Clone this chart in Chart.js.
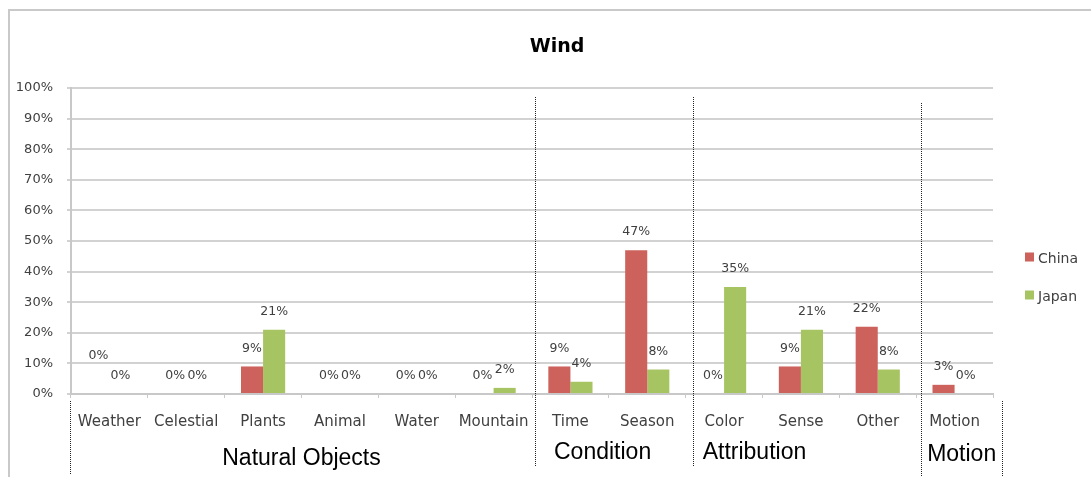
<!DOCTYPE html>
<html>
<head>
<meta charset="utf-8">
<title>Wind</title>
<script src="https://cdn.jsdelivr.net/npm/chart.js@4/dist/chart.umd.min.js"></script>
<style>
  html, body { margin: 0; padding: 0; background: #ffffff; }
  #chart { display: block; }
</style>
</head>
<body>
<canvas id="chart" width="1091" height="477"></canvas>
<script>
// Categories of wind imagery, grouped into four themes
const categories = ['Weather', 'Celestial', 'Plants', 'Animal', 'Water', 'Mountain',
                    'Time', 'Season', 'Color', 'Sense', 'Other', 'Motion'];
const chinaShare = [0, 0, 9, 0, 0, 0, 9, 47, 0, 9, 22, 3];
const japanShare = [0, 0, 21, 0, 0, 2, 4, 8, 35, 21, 8, 0];
const seriesNames = ['China', 'Japan'];
const yTickValues = [0, 10, 20, 30, 40, 50, 60, 70, 80, 90, 100];
const groupNames = ['Natural Objects', 'Condition', 'Attribution', 'Motion'];
const groupStarts = [0, 6, 8, 11];   // first category index of each group
const groupEnds = [5, 7, 10, 11];    // last category index of each group
const chartTitle = 'Wind';

const COLORS = { china: '#cc625b', japan: '#a6c562' };
const TEXT_GRAY = '#404040';

// Boundary pixel to the left of category index i on the x scale
function boundaryX(scale, i) {
  const step = (scale.right - scale.left) / categories.length;
  return scale.left + step * i;
}

const decorPlugin = {
  id: 'decor',
  beforeDraw(chart) {
    const ctx = chart.ctx;
    ctx.save();
    // light frame along the top and left edge
    ctx.strokeStyle = '#c9c9c9';
    ctx.lineWidth = 2;
    ctx.beginPath();
    ctx.moveTo(9, 477);
    ctx.lineTo(9, 10);
    ctx.lineTo(1091, 10);
    ctx.stroke();
    ctx.restore();
  },
  afterDatasetsDraw(chart, args, opts) {
    // value labels above every bar
    const ctx = chart.ctx;
    ctx.save();
    ctx.font = '12.5px "DejaVu Sans"';
    ctx.fillStyle = TEXT_GRAY;
    ctx.textAlign = 'center';
    ctx.textBaseline = 'middle';
    chart.data.datasets.forEach((ds, di) => {
      const meta = chart.getDatasetMeta(di);
      meta.data.forEach((bar, i) => {
        const extra = (opts.shift && opts.shift[di + '-' + i]) || 0;
        ctx.fillText(ds.data[i] + '%', bar.x, bar.y - 18 + extra);
      });
    });
    ctx.restore();
  },
  afterDraw(chart, args, opts) {
    const ctx = chart.ctx;
    const xs = chart.scales.x;
    const area = chart.chartArea;
    ctx.save();

    // title
    ctx.fillStyle = '#000000';
    ctx.font = 'bold 19px "DejaVu Sans"';
    ctx.textAlign = 'center';
    ctx.textBaseline = 'middle';
    ctx.fillText(chartTitle, opts.titleX, opts.titleY);

    // dotted separators between the groups
    ctx.strokeStyle = '#222222';
    ctx.lineWidth = 1;
    ctx.setLineDash([1, 1]);
    opts.separators.forEach(s => {
      const x = Math.round(boundaryX(xs, s.at) + s.dx) + 0.5;
      ctx.beginPath();
      ctx.moveTo(x, s.top);
      ctx.lineTo(x, s.bottom);
      ctx.stroke();
    });
    ctx.setLineDash([]);

    // group names under the category labels
    ctx.fillStyle = '#000000';
    ctx.font = '23px "Liberation Sans"';
    ctx.textBaseline = 'middle';
    groupNames.forEach((name, g) => {
      const p = opts.groupLabels[g];
      const left = boundaryX(xs, groupStarts[g]);
      const right = boundaryX(xs, groupEnds[g] + 1);
      if (p.align === 'center') {
        ctx.textAlign = 'center';
        ctx.fillText(name, (left + right) / 2, p.y);
      } else {
        ctx.textAlign = 'left';
        ctx.fillText(name, left + p.dx, p.y);
      }
    });

    // legend on the right
    ctx.font = '14px "DejaVu Sans"';
    ctx.textAlign = 'left';
    chart.data.datasets.forEach((ds, di) => {
      const y = opts.legendTop + di * opts.legendGap;
      ctx.fillStyle = ds.backgroundColor;
      ctx.fillRect(area.right + 32, y - 4.5, 9, 9);
      ctx.fillStyle = TEXT_GRAY;
      ctx.fillText(ds.label, area.right + 45, y + 2);
    });
    ctx.restore();
  }
};

new Chart(document.getElementById('chart'), {
  type: 'bar',
  data: {
    labels: categories,
    datasets: [
      { label: seriesNames[0], data: chinaShare, backgroundColor: COLORS.china },
      { label: seriesNames[1], data: japanShare, backgroundColor: COLORS.japan }
    ]
  },
  options: {
    responsive: false,
    animation: false,
    devicePixelRatio: 1,
    layout: { padding: { top: 88, right: 98, bottom: 0, left: 0 } },
    datasets: {
      bar: { categoryPercentage: 0.575, barPercentage: 1.0, borderWidth: 0 }
    },
    scales: {
      x: {
        afterFit(scale) { scale.height = 83; },
        grid: {
          drawOnChartArea: false,
          drawTicks: true,
          tickLength: 4,
          color: '#c8c8c8',
          lineWidth: 1,
          offset: true
        },
        border: { display: true, color: '#c8c8c8', width: 2 },
        ticks: {
          color: TEXT_GRAY,
          font: { family: 'DejaVu Sans', size: 15 },
          padding: 15,
          maxRotation: 0,
          autoSkip: false
        }
      },
      y: {
        min: 0,
        max: 100,
        afterFit(scale) { scale.width = 71; },
        afterBuildTicks(scale) {
          scale.ticks = yTickValues.map(v => ({ value: v }));
        },
        grid: {
          color: '#d2d2d2',
          lineWidth: 2,
          drawTicks: true,
          tickLength: 4
        },
        border: { display: true, color: '#c8c8c8', width: 2 },
        ticks: {
          color: TEXT_GRAY,
          font: { family: 'DejaVu Sans', size: 13 },
          padding: 14,
          callback: v => v + '%'
        }
      }
    },
    plugins: {
      legend: { display: false },
      title: { display: false },
      tooltip: { enabled: false },
      decor: {
        titleX: 557,
        titleY: 47,
        shift: { '0-0': -20 },
        legendTop: 257,
        legendGap: 38,
        separators: [
          { at: 0, dx: -1, top: 401, bottom: 474 },
          { at: 6, dx: 3, top: 97, bottom: 467 },
          { at: 8, dx: 7, top: 97, bottom: 467 },
          { at: 11, dx: 5, top: 103, bottom: 476 },
          { at: 12, dx: 9, top: 401, bottom: 476 }
        ],
        groupLabels: [
          { align: 'center', y: 459 },
          { align: 'left', dx: 22, y: 453 },
          { align: 'left', dx: 17, y: 453 },
          { align: 'left', dx: 11, y: 455 }
        ]
      }
    }
  },
  plugins: [decorPlugin]
});
</script>
</body>
</html>
